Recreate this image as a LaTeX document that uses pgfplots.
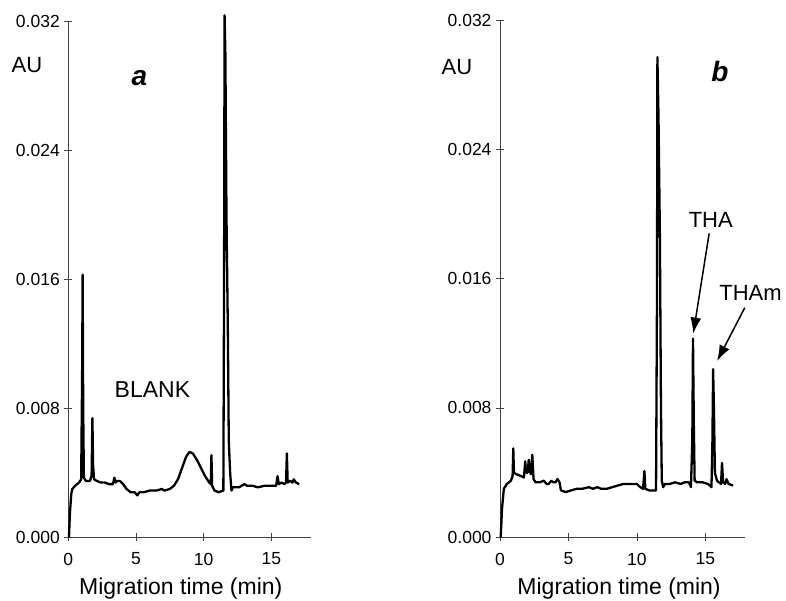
\documentclass[border=0pt]{standalone}
\usepackage{pgfplots}
\pgfplotsset{compat=1.18}
\usepackage{fontspec}
\setmainfont{Liberation Sans}
\usetikzlibrary{arrows.meta}

\pgfplotstableread{
t v
0.05 0.0000
0.12 0.0015
0.22 0.0027
0.30 0.0030
0.50 0.0032
0.80 0.0034
0.95 0.0036
1.02 0.0100
1.06 0.0163
1.10 0.0080
1.15 0.0037
1.30 0.0035
1.60 0.0035
1.72 0.0038
1.78 0.0074
1.83 0.0045
1.90 0.0036
2.10 0.0035
2.40 0.0034
2.70 0.0034
3.00 0.0033
3.30 0.0033
3.40 0.0037
3.50 0.0034
3.60 0.0035
3.80 0.0035
4.05 0.0033
4.30 0.0030
4.60 0.0028
4.90 0.0028
5.10 0.0026
5.25 0.0028
5.60 0.0028
6.00 0.0029
6.50 0.0029
6.90 0.0030
7.10 0.0029
7.50 0.0030
7.80 0.0032
8.10 0.0036
8.40 0.0043
8.70 0.0050
8.95 0.0053
9.20 0.0052
9.50 0.0048
9.80 0.0043
10.10 0.0038
10.40 0.0034
10.52 0.0033
10.57 0.0051
10.62 0.0032
10.80 0.0029
11.10 0.0028
11.45 0.0029
11.50 0.0150
11.54 0.0324
11.60 0.0300
11.68 0.0200
11.78 0.0130
11.85 0.0060
11.95 0.0040
12.05 0.0029
12.15 0.0031
12.60 0.0031
13.00 0.0033
13.20 0.0032
13.60 0.0032
14.00 0.0031
14.50 0.0032
15.00 0.0032
15.35 0.0032
15.45 0.0038
15.55 0.0033
15.75 0.0034
15.95 0.0033
16.08 0.0034
16.14 0.0052
16.20 0.0034
16.40 0.0035
16.55 0.0034
16.65 0.0036
16.80 0.0034
17.05 0.0033
}\blank

\pgfplotstableread{
t v
0.05 0.0000
0.15 0.0018
0.28 0.0030
0.50 0.0033
0.80 0.0035
0.92 0.0038
0.97 0.0055
1.02 0.0040
1.20 0.0039
1.50 0.0038
1.75 0.0037
1.84 0.0047
1.92 0.0040
2.02 0.0040
2.10 0.0048
2.18 0.0041
2.26 0.0039
2.36 0.0051
2.45 0.0036
2.60 0.0034
2.90 0.0034
3.20 0.0035
3.40 0.0033
3.55 0.0033
3.75 0.0035
3.90 0.0034
4.05 0.0034
4.20 0.0036
4.35 0.0034
4.45 0.0029
4.80 0.0028
5.20 0.0029
5.60 0.0030
6.00 0.0030
6.50 0.0031
6.80 0.0030
7.10 0.0031
7.40 0.0030
7.80 0.0030
8.20 0.0031
8.60 0.0032
9.00 0.0033
9.50 0.0033
10.00 0.0033
10.25 0.0031
10.45 0.0030
10.55 0.0041
10.62 0.0030
10.90 0.0029
11.30 0.0029
11.40 0.0029
11.47 0.0150
11.50 0.0297
11.58 0.0260
11.68 0.0188
11.76 0.0080
11.82 0.0035
11.92 0.0031
12.05 0.0033
12.40 0.0033
12.80 0.0034
13.20 0.0033
13.50 0.0034
13.80 0.0034
13.95 0.0031
14.05 0.0060
14.10 0.0123
14.16 0.0070
14.22 0.0035
14.40 0.0034
14.80 0.0034
15.20 0.0033
15.45 0.0031
15.52 0.0060
15.57 0.0104
15.63 0.0080
15.70 0.0040
15.85 0.0035
16.00 0.0034
16.15 0.0033
16.22 0.0046
16.30 0.0034
16.45 0.0033
16.55 0.0036
16.70 0.0033
17.03 0.0032
}\sample

\pgfplotsset{
  chrom/.style={
    scale only axis,
    anchor=south west,
    xmin=0, xmax=17.9,
    ymin=0, ymax=0.032,
    axis x line=bottom,
    axis y line=left,
    axis line style={-, line width=0.6pt, black!75},
    tick style={line width=0.6pt, black!75},
    tick align=center,
    major tick length=8pt,
    xtick={0,5,10,15},
    ytick={0,0.008,0.016,0.024,0.032},
    scaled y ticks=false,
    yticklabel style={/pgf/number format/fixed, /pgf/number format/fixed zerofill, /pgf/number format/precision=3, xshift=-1pt},
    xticklabel style={yshift=-8pt},
    /pgf/number format/assume math mode=true,
    tick label style={font=\fontsize{17.5}{19}\selectfont},
    label style={font=\fontsize{23}{27}\selectfont},
    clip=false,
  },
  trace/.style={black, line width=2.3pt, line join=round, no markers},
}

\begin{document}
\begin{tikzpicture}
\path[use as bounding box] (0,0) rectangle (786pt,601pt);

\begin{axis}[chrom,
  at={(68.3pt,63.7pt)},
  width=242.4pt, height=515.6pt,
  xlabel={Migration time (min)},
  xlabel style={at={(axis description cs:0.464,0)}, anchor=base, yshift=-57.5pt},
]
\addplot[trace] table[x=t,y=v] {\blank};
\node[font=\fontsize{22}{26}\selectfont] at (axis cs:-3.05,0.0293) {AU};
\node[font=\fontsize{28}{30}\selectfont\bfseries\itshape] at (axis cs:5.25,0.0285) {a};
\node[font=\fontsize{23}{26}\selectfont] at (axis cs:6.21,0.00914) {BLANK};
\end{axis}

\begin{axis}[chrom,
  at={(500pt,63.7pt)},
  width=245pt, height=517.3pt,
  xlabel={Migration time (min)},
  xlabel style={at={(axis description cs:0.486,0)}, anchor=base, yshift=-57.5pt},
]
\addplot[trace] table[x=t,y=v] {\sample};
\node[font=\fontsize{22}{26}\selectfont] at (axis cs:-3.14,0.0291) {AU};
\node[font=\fontsize{28}{30}\selectfont\bfseries\itshape] at (axis cs:16.06,0.0288) {b};
\node[font=\fontsize{22}{25}\selectfont] at (axis cs:15.4,0.01964) {THA};
\node[font=\fontsize{22}{25}\selectfont] at (axis cs:18.3,0.0151) {THAm};
\draw[-{Latex[length=16pt,width=11pt]}, line width=1.5pt] (axis cs:15.28,0.0188) -- (axis cs:14.12,0.0126);
\draw[-{Latex[length=16pt,width=11pt]}, line width=1.5pt] (axis cs:17.88,0.0142) -- (axis cs:15.86,0.0109);
\end{axis}
\end{tikzpicture}
\end{document}
